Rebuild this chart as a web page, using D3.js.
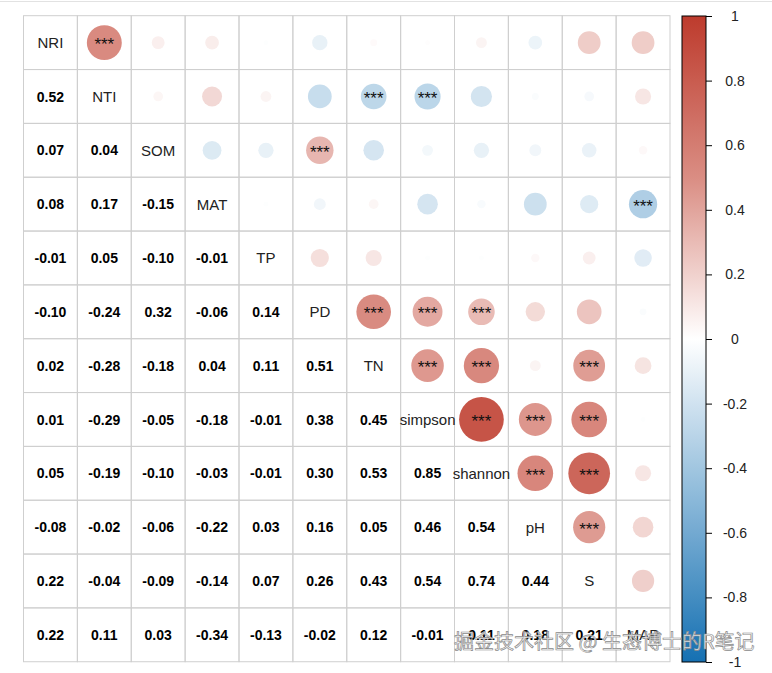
<!DOCTYPE html>
<html>
<head>
<meta charset="utf-8">
<script src="https://cdn.jsdelivr.net/npm/d3@7"></script>
<style>
  body { margin: 0; background: #fff; }
  svg { display: block; font-family: "Liberation Sans", Arial, sans-serif; }
</style>
</head>
<body>
<div id="vis"></div>
<script>
// variables, in matrix order
const vars = ["NRI", "NTI", "SOM", "MAT", "TP", "PD", "TN", "simpson", "shannon", "pH", "S", "MAP"];

// lower triangle of the correlation matrix (row i, columns 0..i-1)
const corrRows = [
    [],
    [0.52],
    [0.07, 0.04],
    [0.08, 0.17, -0.15],
    [-0.01, 0.05, -0.10, -0.01],
    [-0.10, -0.24, 0.32, -0.06, 0.14],
    [0.02, -0.28, -0.18, 0.04, 0.11, 0.51],
    [0.01, -0.29, -0.05, -0.18, -0.01, 0.38, 0.45],
    [0.05, -0.19, -0.10, -0.03, -0.01, 0.30, 0.53, 0.85],
    [-0.08, -0.02, -0.06, -0.22, 0.03, 0.16, 0.05, 0.46, 0.54],
    [0.22, -0.04, -0.09, -0.14, 0.07, 0.26, 0.43, 0.54, 0.74, 0.44],
    [0.22, 0.11, 0.03, -0.34, -0.13, -0.02, 0.12, -0.01, 0.11, 0.18, 0.21]
];

// pairs marked *** (p < 0.001)
const sigPairs = [
    ["NRI", "NTI"], ["NTI", "TN"], ["NTI", "simpson"], ["SOM", "PD"], ["MAT", "MAP"],
    ["PD", "TN"], ["PD", "simpson"], ["PD", "shannon"],
    ["TN", "simpson"], ["TN", "shannon"], ["TN", "S"],
    ["simpson", "shannon"], ["simpson", "pH"], ["simpson", "S"],
    ["shannon", "pH"], ["shannon", "S"], ["pH", "S"]
];

const legendTicks = [1, 0.8, 0.6, 0.4, 0.2, 0, -0.2, -0.4, -0.6, -0.8, -1];

const watermark = "掘金技术社区 @ 生态博士的R笔记";

const width = 772;
const height = 673;

const svg = d3.select("#vis")
    .append("svg")
    .attr("width", width)
    .attr("height", height);

// faint screenshot border on top
svg.append("line")
    .attr("x1", 0).attr("x2", width)
    .attr("y1", 1.5).attr("y2", 1.5)
    .attr("stroke", "#e2e2e2");

const x = d3.scaleBand().domain(vars).range([23.5, 670]);
const y = d3.scaleBand().domain(vars).range([15.7, 661.7]);
const cell = x.bandwidth();

const r = d3.scaleSqrt().domain([0, 1]).range([0, cell * 0.45]);
const color = d3.scaleLinear()
    .domain([-1, 0, 0.5, 1])
    .range(["#1570b2", "#ffffff", "#da8d83", "#bd3b2d"]);

const sigSet = new Set(sigPairs.flatMap(([a, b]) => [a + "|" + b, b + "|" + a]));

// build all cells
const cells = [];
vars.forEach((rv, i) => {
    vars.forEach((cv, j) => {
        let v = null;
        if (i > j) v = corrRows[i][j];
        else if (j > i) v = corrRows[j][i];
        cells.push({ row: rv, col: cv, i, j, value: v, sig: sigSet.has(rv + "|" + cv) });
    });
});

// grid
const grid = svg.append("g");
grid.selectAll("rect")
    .data(cells)
    .join("rect")
    .attr("x", d => x(d.col))
    .attr("y", d => y(d.row))
    .attr("width", cell)
    .attr("height", cell)
    .attr("fill", "none")
    .attr("stroke", "#cfcfcf")
    .attr("stroke-width", 1);

// upper triangle: circles
const upper = cells.filter(d => d.j > d.i);
svg.append("g").selectAll("circle")
    .data(upper)
    .join("circle")
    .attr("cx", d => x(d.col) + cell / 2)
    .attr("cy", d => y(d.row) + cell / 2)
    .attr("r", d => r(Math.abs(d.value)))
    .attr("fill", d => color(d.value));

svg.append("g").selectAll("text")
    .data(upper.filter(d => d.sig))
    .join("text")
    .attr("x", d => x(d.col) + cell / 2)
    .attr("y", d => y(d.row) + cell / 2 + 7.5)
    .attr("text-anchor", "middle")
    .attr("font-size", 17)
    .attr("fill", "#111")
    .text("***");

// lower triangle: numbers
svg.append("g").selectAll("text")
    .data(cells.filter(d => d.i > d.j))
    .join("text")
    .attr("x", d => x(d.col) + cell / 2)
    .attr("y", d => y(d.row) + cell / 2)
    .attr("dy", "0.36em")
    .attr("text-anchor", "middle")
    .attr("font-size", 14)
    .attr("font-weight", "bold")
    .attr("fill", "#000")
    .text(d => d.value.toFixed(2));

// diagonal labels
svg.append("g").selectAll("text")
    .data(vars)
    .join("text")
    .attr("x", d => x(d) + cell / 2)
    .attr("y", d => y(d) + cell / 2)
    .attr("dy", "0.36em")
    .attr("text-anchor", "middle")
    .attr("font-size", 15)
    .attr("fill", "#222")
    .text(d => d);

// colour bar
const barX = 682, barW = 24;
const yLeg = d3.scaleLinear().domain([1, -1]).range([16, 662]);

const grad = svg.append("defs").append("linearGradient")
    .attr("id", "cbar")
    .attr("x1", 0).attr("x2", 0).attr("y1", 0).attr("y2", 1);
grad.selectAll("stop")
    .data(d3.range(0, 1.0001, 0.05))
    .join("stop")
    .attr("offset", t => t)
    .attr("stop-color", t => color(1 - 2 * t));

svg.append("rect")
    .attr("x", barX)
    .attr("y", yLeg(1))
    .attr("width", barW)
    .attr("height", yLeg(-1) - yLeg(1))
    .attr("fill", "url(#cbar)")
    .attr("stroke", "#000")
    .attr("stroke-width", 1);

const legAxis = svg.append("g")
    .attr("transform", `translate(${barX + barW},0)`)
    .call(d3.axisRight(yLeg).tickValues(legendTicks).tickSize(6).tickFormat(d3.format("")));
legAxis.select(".domain").remove();
legAxis.selectAll("text")
    .attr("x", 29)
    .attr("text-anchor", "middle")
    .attr("font-size", 14)
    .attr("font-family", "Liberation Sans, Arial, sans-serif")
    .attr("fill", "#222")
    .text(d => d === 0 ? "0" : String(d).replace("-", "-"));

// watermark
svg.append("text")
    .attr("x", 454)
    .attr("y", 649)
    .attr("font-size", 20)
    .attr("font-family", "Noto Sans CJK SC, sans-serif")
    .attr("fill", "rgba(250,250,250,0.85)")
    .attr("stroke", "#8a8a8a")
    .attr("stroke-width", 0.7)
    .text(watermark);
</script>
</body>
</html>
